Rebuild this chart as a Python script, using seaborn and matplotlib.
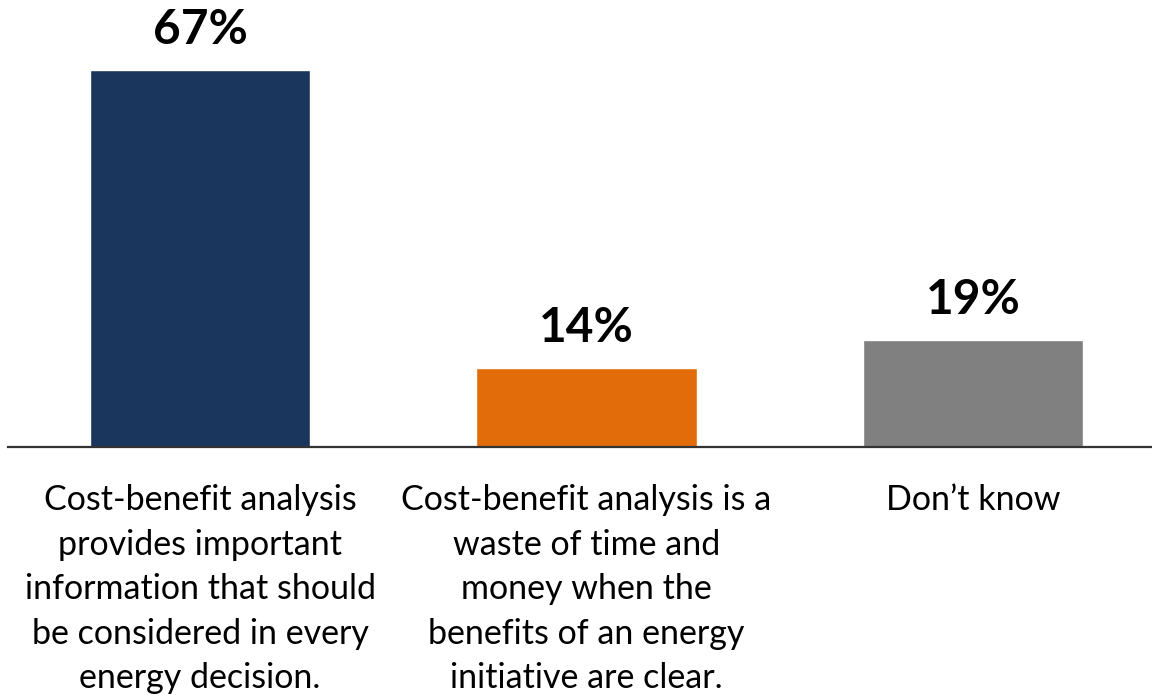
import matplotlib
matplotlib.use("Agg")
import matplotlib.pyplot as plt
import seaborn as sns
import pandas as pd

# Survey responses on cost-benefit analysis
categories = [
    "Cost-benefit analysis\nprovides important\ninformation that should\nbe considered in every\nenergy decision.",
    "Cost-benefit analysis is a\nwaste of time and\nmoney when the\nbenefits of an energy\ninitiative are clear.",
    "Don\u2019t know",
]
shares = [67, 14, 19]
bar_colors = ["#1B365D", "#E36C0A", "#808080"]

df = pd.DataFrame({"response": categories, "share": shares})

sns.set_theme(style="white")
plt.rcParams["font.family"] = ["Lato", "DejaVu Sans"]

fig = plt.figure(figsize=(11.52, 6.95), dpi=100)
ax = fig.add_axes([8 / 1152, (695 - 447) / 695, 1144 / 1152, 447 / 695])

sns.barplot(
    data=df, x="response", y="share", hue="response",
    palette=bar_colors, width=0.57, saturation=1, legend=False, ax=ax,
)

ax.set_xlim(-0.497, 2.463)
ax.set_ylim(0, 79.5)

for i, v in enumerate(shares):
    ax.text(i, v + 3.3, f"{v}%", ha="center", va="bottom",
            fontsize=34.5, fontweight="bold", color="black")

for side in ["top", "right", "left"]:
    ax.spines[side].set_visible(False)
ax.spines["bottom"].set_color("#333333")
ax.spines["bottom"].set_linewidth(1.6)

ax.set_yticks([])
ax.set_xlabel("")
ax.set_ylabel("")
ax.tick_params(axis="x", length=0, pad=27)
for lbl in ax.get_xticklabels():
    lbl.set_fontsize(24.5)
    lbl.set_linespacing(1.48)
    lbl.set_verticalalignment("top")
    lbl.set_color("black")

fig.savefig("out.png", dpi=100)
